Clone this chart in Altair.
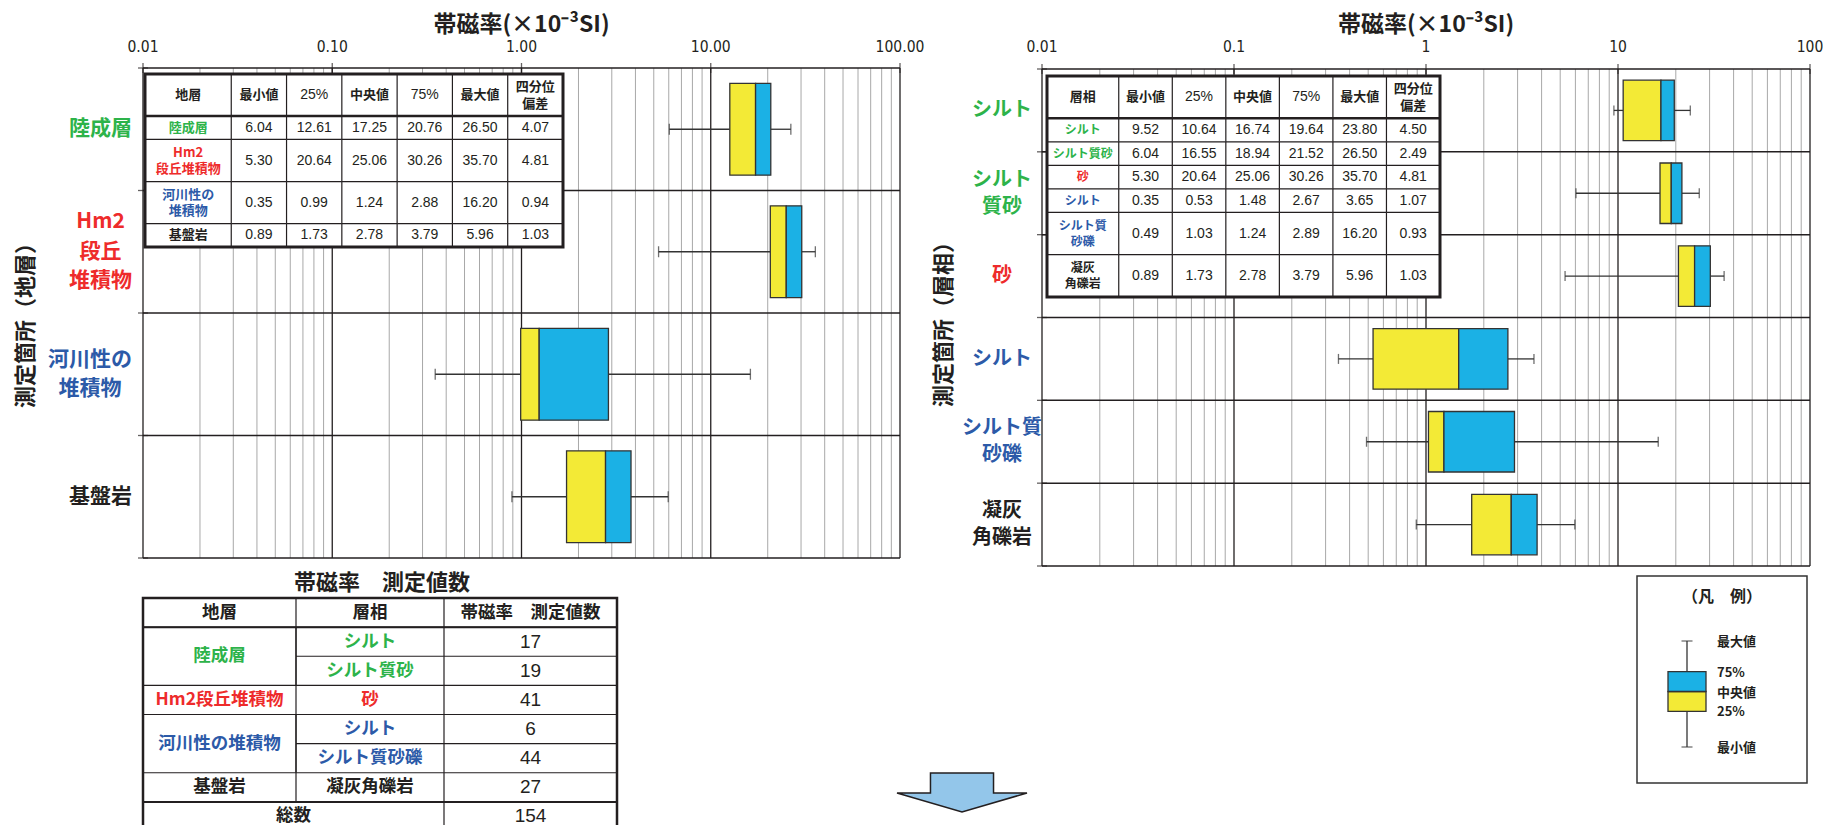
import altair as alt
import pandas as pd

# ---------------- colours / fonts ----------------
GREEN = "#2db34a"
RED = "#ee2b2b"
BLUE = "#2c5aa8"
BLACK = "#231f20"
YELLOW = "#f3ea36"
CYAN = "#1bb1e5"
LINE = "#231f20"
EDGE = "#333333"
GRID = "#a8a8a8"
ARROW_FILL = "#93c6ea"
JP = "Noto Sans CJK JP"
NUM = "Liberation Sans, Arial, sans-serif"
NARROW = "Liberation Sans Narrow, DejaVu Sans Condensed, Arial Narrow, Liberation Sans, sans-serif"

# ---------------- data ----------------
DECADES = [0.01, 0.1, 1, 10, 100]
TICK_LABELS_LEFT = ["0.01", "0.10", "1.00", "10.00", "100.00"]
TICK_LABELS_RIGHT = ["0.01", "0.1", "1", "10", "100"]
AXIS_TITLE = "帯磁率(×10⁻³SI)"
YTITLE_LEFT = "測定箇所（地層）"
YTITLE_RIGHT = "測定箇所（層相）"

STRATA = ["陸成層", "Hm2\n段丘\n堆積物", "河川性の\n堆積物", "基盤岩"]
STRATA_TABLE = ["陸成層", "Hm2\n段丘堆積物", "河川性の\n堆積物", "基盤岩"]
STRATA_COLOR = [GREEN, RED, BLUE, BLACK]
STRATA_MIN = [6.04, 5.30, 0.35, 0.89]
STRATA_Q1 = [12.61, 20.64, 0.99, 1.73]
STRATA_MED = [17.25, 25.06, 1.24, 2.78]
STRATA_Q3 = [20.76, 30.26, 2.88, 3.79]
STRATA_MAX = [26.50, 35.70, 16.20, 5.96]
STRATA_QD = [4.07, 4.81, 0.94, 1.03]

FACIES = ["シルト", "シルト\n質砂", "砂", "シルト", "シルト質\n砂礫", "凝灰\n角礫岩"]
FACIES_TABLE = ["シルト", "シルト質砂", "砂", "シルト", "シルト質\n砂礫", "凝灰\n角礫岩"]
FACIES_COLOR = [GREEN, GREEN, RED, BLUE, BLUE, BLACK]
FACIES_MIN = [9.52, 6.04, 5.30, 0.35, 0.49, 0.89]
FACIES_Q1 = [10.64, 16.55, 20.64, 0.53, 1.03, 1.73]
FACIES_MED = [16.74, 18.94, 25.06, 1.48, 1.24, 2.78]
FACIES_Q3 = [19.64, 21.52, 30.26, 2.67, 2.89, 3.79]
FACIES_MAX = [23.80, 26.50, 35.70, 3.65, 16.20, 5.96]
FACIES_QD = [4.50, 2.49, 4.81, 1.07, 0.93, 1.03]

STAT_HEADER = ["最小値", "25%", "中央値", "75%", "最大値", "四分位\n偏差"]

COUNT_TITLE = "帯磁率　測定値数"
COUNT_HEADER = ["地層", "層相", "帯磁率　測定値数"]
COUNT_STRATA = ["陸成層", "Hm2段丘堆積物", "河川性の堆積物", "基盤岩"]
COUNT_STRATA_ROWS = [2, 1, 2, 1]
COUNT_FACIES = ["シルト", "シルト質砂", "砂", "シルト", "シルト質砂礫", "凝灰角礫岩"]
COUNT_N = [17, 19, 41, 6, 44, 27]
COUNT_TOTAL = 154

LEGEND_TITLE = "（凡　例）"
LEGEND_LABELS = ["最小値", "25%", "中央値", "75%", "最大値"]
LEGEND_SAMPLE = [0.0, 1.8, 2.8, 3.8, 5.35]

ARROW_PATH = "M -0.485 -0.3 L 0.485 -0.3 L 0.485 0.008 L 1 0.008 L 0 0.3 L -1 0.008 L -0.485 0.008 Z"

W, H = 1815, 817

STYLES = {
    "hdr": {"font": JP, "weight": "bold", "lh": 17},
    "cat": {"font": JP, "weight": "bold", "lh": 16},
    "num": {"font": NUM, "weight": "normal", "lh": 16},
}


def qx(field, scale):
    return alt.X(field, type="quantitative", scale=scale, axis=None)


def qy(field, scale):
    return alt.Y(field, type="quantitative", scale=scale, axis=None)


def nlines(s):
    return s.count("\n") + 1


def box_panel(mins, q1s, meds, q3s, maxs, xr, yr, half, tick_labels, cap):
    n = len(mins)
    sx = alt.Scale(type="log", domain=[0.01, 100], range=xr)
    sy = alt.Scale(type="linear", domain=[0, n], range=yr, nice=False, zero=False)
    minor = [d * m for d in DECADES[:-1] for m in range(2, 10)]
    g_minor = pd.DataFrame({"v": minor, "a": 0, "b": n})
    g_major = pd.DataFrame({"v": DECADES, "a": 0, "b": n, "t": tick_labels})
    g_rows = pd.DataFrame({"r": list(range(n + 1)), "a": 0.01, "b": 100})
    out = [
        alt.Chart(g_minor).mark_rule(color=GRID, strokeWidth=1).encode(
            x=qx("v", sx), y=qy("a", sy), y2="b"),
        alt.Chart(g_major).mark_rule(color=LINE, strokeWidth=1.3).encode(
            x=qx("v", sx), y=qy("a", sy), y2="b"),
        alt.Chart(g_rows).mark_rule(color=LINE, strokeWidth=1.5).encode(
            x=qx("a", sx), x2="b", y=qy("r", sy)),
        alt.Chart(g_major).mark_tick(orient="vertical", size=10, thickness=1.3, color=LINE).encode(
            x=qx("v", sx), y=qy("a", sy)),
        alt.Chart(g_rows).mark_tick(orient="horizontal", size=10, thickness=1.3, color=LINE).encode(
            x=qx("a", sx), y=qy("r", sy)),
        alt.Chart(g_major).mark_text(font=NARROW, fontSize=15.5, color=BLACK, baseline="middle").encode(
            x=qx("v", sx), y=alt.value(39), text="t:N"),
    ]
    box = pd.DataFrame({"mn": mins, "q1": q1s, "md": meds, "q3": q3s, "mx": maxs})
    box["c"] = [i + 0.5 for i in range(n)]
    box["top"] = box["c"] - half
    box["bot"] = box["c"] + half
    out += [
        alt.Chart(box).mark_rule(color=EDGE, strokeWidth=1.3).encode(
            x=qx("mn", sx), x2="q1", y=qy("c", sy)),
        alt.Chart(box).mark_rule(color=EDGE, strokeWidth=1.3).encode(
            x=qx("q3", sx), x2="mx", y=qy("c", sy)),
        alt.Chart(box).mark_tick(orient="vertical", size=cap, thickness=1.3, color=EDGE).encode(
            x=qx("mn", sx), y=qy("c", sy)),
        alt.Chart(box).mark_tick(orient="vertical", size=cap, thickness=1.3, color=EDGE).encode(
            x=qx("mx", sx), y=qy("c", sy)),
        alt.Chart(box).mark_rect(fill=YELLOW, stroke=EDGE, strokeWidth=1.3).encode(
            x=qx("q1", sx), x2="md", y=qy("top", sy), y2="bot"),
        alt.Chart(box).mark_rect(fill=CYAN, stroke=EDGE, strokeWidth=1.3).encode(
            x=qx("md", sx), x2="q3", y=qy("top", sy), y2="bot"),
    ]
    ppu = (yr[1] - yr[0]) / n
    return out, sy, ppu


def grid_table(col_w, row_h, cells, xr, yr, inner_w, outer_w, thick):
    cx = [0.0]
    for w in col_w:
        cx.append(cx[-1] + w)
    cy = [0.0]
    for h in row_h:
        cy.append(cy[-1] + h)
    ppu = (yr[1] - yr[0]) / cy[-1]
    sx = alt.Scale(type="linear", domain=[0, cx[-1]], range=xr, nice=False, zero=False)
    sy = alt.Scale(type="linear", domain=[0, cy[-1]], range=yr, nice=False, zero=False)
    frame = pd.DataFrame({"x0": [0.0], "x1": [cx[-1]], "y0": [0.0], "y1": [cy[-1]]})
    segs, recs = [], []
    for cell in cells:
        r, c = cell["r"], cell["c"]
        rs, cs = cell.get("rs", 1), cell.get("cs", 1)
        x0, x1, y0, y1 = cx[c], cx[c + cs], cy[r], cy[r + rs]
        segs += [(x0, x1, y0, y0), (x0, x1, y1, y1), (x0, x0, y0, y1), (x1, x1, y0, y1)]
        lh = STYLES[cell["st"]]["lh"]
        shift = (nlines(cell["t"]) - 1) / 2 * lh / ppu
        recs.append({"xc": (x0 + x1) / 2, "yc": (y0 + y1) / 2 - shift, "t": cell["t"],
                     "col": cell["col"], "fs": cell["fs"], "st": cell["st"]})
    seg = pd.DataFrame(segs, columns=["x0", "x1", "y0", "y1"]).drop_duplicates()
    thick_df = pd.DataFrame({"y": [cy[r] for r in thick]})
    thick_df["x0"] = 0.0
    thick_df["x1"] = cx[-1]
    out = [
        alt.Chart(frame).mark_rect(fill="white").encode(
            x=qx("x0", sx), x2="x1", y=qy("y0", sy), y2="y1"),
        alt.Chart(seg).mark_rule(color=LINE, strokeWidth=inner_w).encode(
            x=qx("x0", sx), x2="x1", y=qy("y0", sy), y2="y1"),
        alt.Chart(thick_df).mark_rule(color=LINE, strokeWidth=outer_w - 0.5).encode(
            x=qx("x0", sx), x2="x1", y=qy("y", sy)),
        alt.Chart(frame).mark_rect(fillOpacity=0, stroke=LINE, strokeWidth=outer_w).encode(
            x=qx("x0", sx), x2="x1", y=qy("y0", sy), y2="y1"),
    ]
    txt = pd.DataFrame(recs)
    for st, g in txt.groupby("st"):
        s = STYLES[st]
        out.append(
            alt.Chart(g.reset_index(drop=True)).mark_text(
                font=s["font"], fontWeight=s["weight"], lineHeight=s["lh"], lineBreak="\n",
                baseline="middle", align="center").encode(
                x=qx("xc", sx), y=qy("yc", sy), text="t:N",
                size=alt.Size("fs:Q", scale=None), color=alt.Color("col:N", scale=None)))
    return out


def stats_cells(first_header, names, colors, cols, name_fs):
    cells = [{"r": 0, "c": 0, "t": first_header, "col": BLACK, "fs": 13, "st": "hdr"}]
    for j, h in enumerate(STAT_HEADER):
        is_pct = "%" in h
        cells.append({"r": 0, "c": j + 1, "t": h, "col": BLACK,
                      "fs": 14 if is_pct else 13, "st": "num" if is_pct else "hdr"})
    for i, nm in enumerate(names):
        cells.append({"r": i + 1, "c": 0, "t": nm, "col": colors[i], "fs": name_fs, "st": "cat"})
        for j, arr in enumerate(cols):
            cells.append({"r": i + 1, "c": j + 1, "t": f"{arr[i]:.2f}", "col": BLACK,
                          "fs": 14, "st": "num"})
    return cells


def text_w(s, fs):
    return max(sum(fs if ord(ch) > 255 else 0.6 * fs for ch in line) for line in s.split("\n"))


layers = []

# ---------------- left box panel ----------------
left_layers, sy_left, ppu_left = box_panel(STRATA_MIN, STRATA_Q1, STRATA_MED, STRATA_Q3, STRATA_MAX,
                                           [135, 892], [60, 550], 0.375, TICK_LABELS_LEFT, 11)
layers += left_layers

# ---------------- right box panel ----------------
right_layers, sy_right, ppu_right = box_panel(FACIES_MIN, FACIES_Q1, FACIES_MED, FACIES_Q3, FACIES_MAX,
                                              [1034, 1802], [61, 558], 0.365, TICK_LABELS_RIGHT, 10)
layers += right_layers

# ---------------- stats tables ----------------
stat_cols_l = [STRATA_MIN, STRATA_Q1, STRATA_MED, STRATA_Q3, STRATA_MAX, STRATA_QD]
layers += grid_table([1.56, 1, 1, 1, 1, 1, 1], [1.8, 1, 1.8, 1.8, 1],
                     stats_cells("地層", STRATA_TABLE, STRATA_COLOR, stat_cols_l, 13),
                     [137, 555], [66, 239], 1.2, 3, [1])
stat_cols_r = [FACIES_MIN, FACIES_Q1, FACIES_MED, FACIES_Q3, FACIES_MAX, FACIES_QD]
layers += grid_table([1.34, 1, 1, 1, 1, 1, 1], [1.8, 1, 1, 1, 1, 1.8, 1.8],
                     stats_cells("層相", FACIES_TABLE, FACIES_COLOR, stat_cols_r, 12),
                     [1039, 1432], [68, 289], 1.2, 3, [1])

# ---------------- category labels ----------------
LH_L, LH_R = 29.5, 27
lab_l = pd.DataFrame({"t": STRATA, "col": STRATA_COLOR})
lab_l["c"] = [i + 0.5 - (nlines(s) - 1) / 2 * LH_L / ppu_left for i, s in enumerate(STRATA)]
lab_l["lx"] = [124 - text_w(s, 21) / 2 for s in STRATA]
layers.append(
    alt.Chart(lab_l).mark_text(font=JP, fontWeight="bold", fontSize=21, lineHeight=LH_L,
                               lineBreak="\n", baseline="middle", align="center").encode(
        x=alt.X("lx:Q", scale=None, axis=None), y=qy("c", sy_left), text="t:N",
        color=alt.Color("col:N", scale=None)))
lab_r = pd.DataFrame({"t": FACIES, "col": FACIES_COLOR})
lab_r["c"] = [i + 0.5 - (nlines(s) - 1) / 2 * LH_R / ppu_right for i, s in enumerate(FACIES)]
layers.append(
    alt.Chart(lab_r).mark_text(font=JP, fontWeight="bold", fontSize=20, lineHeight=LH_R,
                               lineBreak="\n", baseline="middle", align="center").encode(
        x=alt.value(994), y=qy("c", sy_right), text="t:N",
        color=alt.Color("col:N", scale=None)))


# ---------------- titles ----------------
def text_at(t, x, y, fs, angle=0, weight="bold", font=JP, align="center"):
    return alt.Chart(pd.DataFrame({"t": [t]})).mark_text(
        font=font, fontWeight=weight, fontSize=fs, angle=angle, color=BLACK,
        baseline="middle", align=align).encode(x=alt.value(x), y=alt.value(y), text="t:N")


layers.append(text_at(AXIS_TITLE, 513.5, 17, 23))
layers.append(text_at(AXIS_TITLE, 1418, 17, 23))
layers.append(text_at(YTITLE_LEFT, 18, 312, 22, angle=270))
layers.append(text_at(YTITLE_RIGHT, 935.5, 311, 22, angle=270))

# ---------------- count table ----------------
layers.append(text_at(COUNT_TITLE, 374, 575, 22))
cnt_cells = [{"r": 0, "c": j, "t": h, "col": BLACK, "fs": 17.5, "st": "hdr"}
             for j, h in enumerate(COUNT_HEADER)]
r = 1
fi = 0
for k, nm in enumerate(COUNT_STRATA):
    span = COUNT_STRATA_ROWS[k]
    cnt_cells.append({"r": r, "c": 0, "rs": span, "t": nm, "col": STRATA_COLOR[k],
                      "fs": 17.5, "st": "cat"})
    for s in range(span):
        cnt_cells.append({"r": r + s, "c": 1, "t": COUNT_FACIES[fi], "col": FACIES_COLOR[fi],
                          "fs": 17.5, "st": "cat"})
        cnt_cells.append({"r": r + s, "c": 2, "t": str(COUNT_N[fi]), "col": BLACK,
                          "fs": 19, "st": "num"})
        fi += 1
    r += span
cnt_cells.append({"r": r, "c": 0, "cs": 2, "t": "総数", "col": BLACK, "fs": 17.5, "st": "hdr"})
cnt_cells.append({"r": r, "c": 2, "t": str(COUNT_TOTAL), "col": BLACK, "fs": 19, "st": "num"})
layers += grid_table([153, 148, 173], [1] * 8, cnt_cells, [135, 609], [590, 823], 1.2, 2.5, [1, 7])

# ---------------- legend ----------------
layers.append(
    alt.Chart(pd.DataFrame({"a": [0]})).mark_rect(fill="white", stroke=EDGE, strokeWidth=1.5).encode(
        x=alt.value(1629), x2=alt.value(1799), y=alt.value(568), y2=alt.value(775)))
layers.append(text_at(LEGEND_TITLE, 1714, 589, 16))
lg_sx = alt.Scale(type="linear", domain=[0, 1], range=[1660, 1698], nice=False, zero=False)
lg_sy = alt.Scale(type="linear", domain=[0, 5.35], range=[739, 633], nice=False, zero=False)
lg = pd.DataFrame({"mn": [LEGEND_SAMPLE[0]], "q1": [LEGEND_SAMPLE[1]], "md": [LEGEND_SAMPLE[2]],
                   "q3": [LEGEND_SAMPLE[3]], "mx": [LEGEND_SAMPLE[4]],
                   "x0": [0.0], "x1": [1.0], "xc": [0.5]})
layers += [
    alt.Chart(lg).mark_rule(color=EDGE, strokeWidth=1.3).encode(x=qx("xc", lg_sx), y=qy("mn", lg_sy), y2="q1"),
    alt.Chart(lg).mark_rule(color=EDGE, strokeWidth=1.3).encode(x=qx("xc", lg_sx), y=qy("q3", lg_sy), y2="mx"),
    alt.Chart(lg).mark_tick(orient="horizontal", size=11, thickness=1.3, color=EDGE).encode(
        x=qx("xc", lg_sx), y=qy("mn", lg_sy)),
    alt.Chart(lg).mark_tick(orient="horizontal", size=11, thickness=1.3, color=EDGE).encode(
        x=qx("xc", lg_sx), y=qy("mx", lg_sy)),
    alt.Chart(lg).mark_rect(fill=YELLOW, stroke=EDGE, strokeWidth=1.3).encode(
        x=qx("x0", lg_sx), x2="x1", y=qy("q1", lg_sy), y2="md"),
    alt.Chart(lg).mark_rect(fill=CYAN, stroke=EDGE, strokeWidth=1.3).encode(
        x=qx("x0", lg_sx), x2="x1", y=qy("md", lg_sy), y2="q3"),
]
lg_lab = pd.DataFrame({"t": LEGEND_LABELS, "v": LEGEND_SAMPLE})
layers.append(
    alt.Chart(lg_lab).mark_text(font=JP, fontWeight="bold", fontSize=13, color=BLACK,
                                baseline="middle", align="left", dy=1).encode(
        x=alt.value(1709), y=qy("v", lg_sy), text="t:N"))

# ---------------- arrow ----------------
layers.append(
    alt.Chart(pd.DataFrame({"a": [0]})).mark_point(
        shape=ARROW_PATH, size=16900, filled=True, fill=ARROW_FILL, stroke=LINE,
        strokeWidth=1.5, opacity=1).encode(x=alt.value(954), y=alt.value(784.5)))

chart = alt.layer(*layers).resolve_scale(x="independent", y="independent").properties(
    width=W, height=H, autosize=alt.AutoSizeParams(type="none"), padding=0,
    background="white").configure_view(stroke=None)

chart.save("out.html", embed_options={"renderer": "svg", "actions": False})
